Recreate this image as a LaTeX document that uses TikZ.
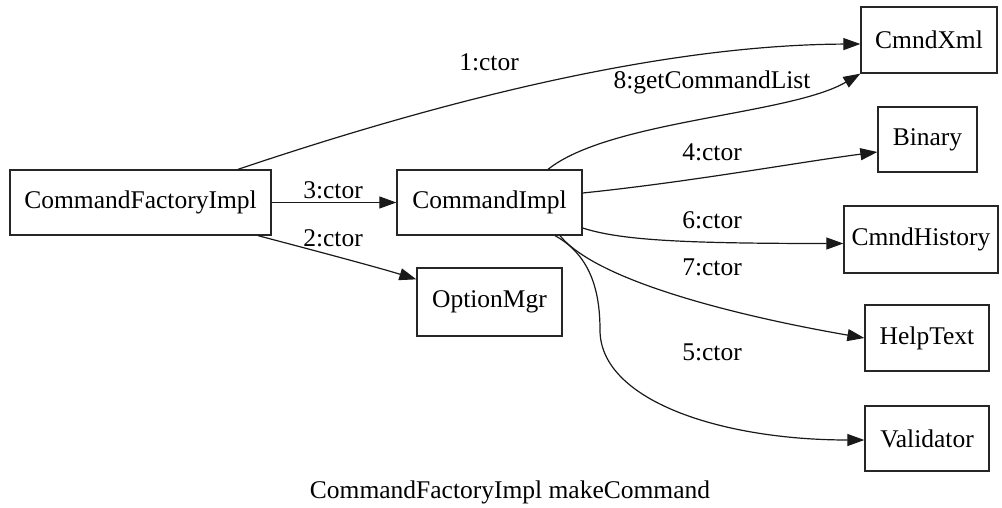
\documentclass[tikz,border=0pt]{standalone}
\usepackage{fontspec}
\setmainfont{Liberation Serif}
\usetikzlibrary{arrows.meta,calc}

\tikzset{
  box/.style={draw=black!85, line width=1.3pt, fill=white, inner sep=0pt,
              font=\fontsize{25.5}{30}\selectfont},
  edge/.style={draw=black!90, line width=1.2pt,
               -{Triangle[length=17pt,width=12pt]}},
  lbl/.style={inner sep=0pt, font=\fontsize{25.5}{30}\selectfont},
}

\begin{document}
\begin{tikzpicture}[x=1pt,y=-1pt]
  \useasboundingbox (0,0) rectangle (1002,508);

  % objects
  \node[box, minimum width=261pt, minimum height=65pt] (cfi)  at (140.5,202.5) {CommandFactoryImpl};
  \node[box, minimum width=185pt, minimum height=65pt] (ci)   at (489.5,202.5) {CommandImpl};
  \node[box, minimum width=145pt, minimum height=68pt] (opt)  at (489.5,302)   {OptionMgr};
  \node[box, minimum width=136pt, minimum height=66pt] (xml)  at (929,40)      {CmndXml};
  \node[box, minimum width=99pt,  minimum height=65pt] (bin)  at (927.5,139.5) {Binary};
  \node[box, minimum width=154pt, minimum height=67pt] (hist) at (921,239.5)   {CmndHistory};
  \node[box, minimum width=124pt, minimum height=66pt] (help) at (927,338)     {HelpText};
  \node[box, minimum width=124pt, minimum height=65pt] (val)  at (927,438.5)   {Validator};

  % messages
  \draw[edge] ($(cfi.north)+(97.5,0)$) .. controls (420,108) and (650,45) .. ($(xml.west)+(0,4)$);
  \draw[edge] (cfi.east) -- (ci.west);
  \draw[edge] ($(cfi.south)+(117.5,0)$) .. controls (320,252) and (380,268) .. ($(opt.north west)+(0,12)$);
  \draw[edge] ($(ci.north)+(58.5,0)$) .. controls (610,120) and (790,115) .. (xml.south west);
  \draw[edge] ($(ci.east)+(0,-9.5)$) .. controls (690,182) and (800,162) .. ($(bin.west)+(0,12.5)$);
  \draw[edge] ($(ci.east)+(0,25.5)$) .. controls (620,240) and (680,243.5) .. ($(hist.west)+(0,4)$);
  \draw[edge] ($(ci.south)+(70.5,0)$) .. controls (600,285) and (760,320) .. (help.west);
  \draw[edge] ($(ci.south)+(65.5,0)$) .. controls (590,255) and (600,290) .. (600,330)
              .. controls (600,400) and (720,440) .. ($(val.west)+(0,1.5)$);

  % message labels
  \node[lbl] (l1) at (489,62)  {1:ctor};
  \node[lbl] (l2) at (333,238) {2:ctor};
  \node[lbl] (l3) at (333,190) {3:ctor};
  \node[lbl] (l4) at (712,152) {4:ctor};
  \node[lbl] (l5) at (712,352) {5:ctor};
  \node[lbl] (l6) at (712,220) {6:ctor};
  \node[lbl] (l7) at (712,267) {7:ctor};
  \node[lbl] (l8) at (712,82)  {8:getCommandList};

  % caption
  \node[lbl] (cap) at (510,492) {CommandFactoryImpl makeCommand};
\end{tikzpicture}
\end{document}
